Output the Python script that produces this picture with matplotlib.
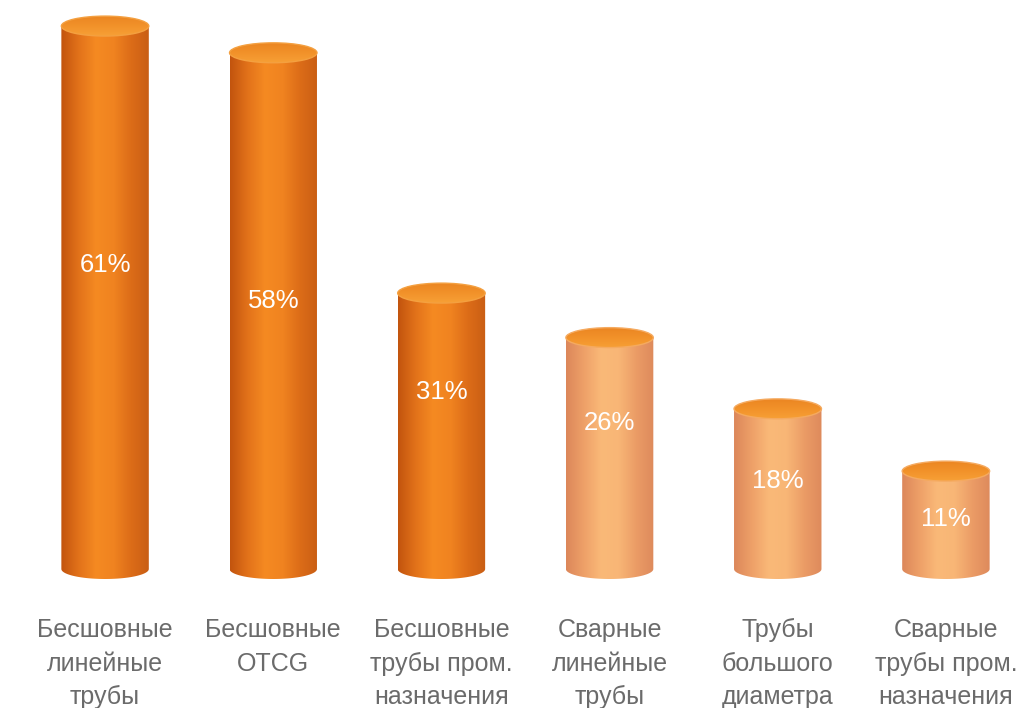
import numpy as np
import matplotlib.pyplot as plt
from matplotlib.patches import Ellipse, PathPatch
from matplotlib.path import Path
from matplotlib.colors import LinearSegmentedColormap

categories = ["Бесшовные\nлинейные\nтрубы", "Бесшовные\nOTCG", "Бесшовные\nтрубы пром.\nназначения",
              "Сварные\nлинейные\nтрубы", "Трубы\nбольшого\nдиаметра", "Сварные\nтрубы пром.\nназначения"]
values = [61, 58, 31, 26, 18, 11]
dark = [True, True, True, False, False, False]
# where the % label sits, as fraction of the bar height
label_frac = [0.56, 0.52, 0.64, 0.63, 0.55, 0.51]

plt.rcParams['font.family'] = ['Liberation Sans', 'DejaVu Sans']

dark_cmap = LinearSegmentedColormap.from_list(
    "dk", ["#c2540e", "#e2721a", "#f58a22", "#f08320", "#dc6c18", "#c95e14"])
light_cmap = LinearSegmentedColormap.from_list(
    "lt", ["#dc875a", "#eea068", "#fab978", "#f8b676", "#eb9c66", "#de8a5c"])
top_cmap = LinearSegmentedColormap.from_list(
    "tp", ["#eb8622", "#f2922a", "#f7a036"])

fig = plt.figure(figsize=(10.31, 7.08), dpi=100)
ax = fig.add_axes([21 / 1031, 1 - 600 / 708, 1009 / 1031, 600 / 708])
ax.set_xlim(-0.5, 5.5)
ax.set_ylim(-3.48, 63.93)
ax.axis('off')

hw = 0.26   # half width of a cylinder
eh = 1.12   # half height of the end ellipses
grad = np.linspace(0, 1, 256).reshape(1, -1)

for i, v in enumerate(values):
    x0, x1 = i - hw, i + hw
    # body: rectangle plus lower half ellipse
    t = np.linspace(np.pi, 2 * np.pi, 60)
    bottom = np.column_stack([i + hw * np.cos(t), eh * np.sin(t)])
    verts = np.vstack([[x0, v], bottom, [x1, v], [x0, v]])
    codes = [Path.MOVETO] + [Path.LINETO] * (len(verts) - 2) + [Path.CLOSEPOLY]
    body = PathPatch(Path(verts, codes), facecolor='none', edgecolor='none')
    ax.add_patch(body)
    im = ax.imshow(grad, cmap=dark_cmap if dark[i] else light_cmap, aspect='auto',
                   extent=[x0, x1, -eh, v], zorder=2)
    im.set_clip_path(body)

    # top ellipse
    top = Ellipse((i, v), 2 * hw, 2 * eh, facecolor='none', edgecolor='none')
    ax.add_patch(top)
    vg = np.linspace(0, 1, 128).reshape(-1, 1)
    im2 = ax.imshow(vg, cmap=top_cmap, aspect='auto', origin='upper',
                    extent=[x0, x1, v - eh, v + eh], zorder=3)
    im2.set_clip_path(top)
    rim = Ellipse((i, v), 2 * hw, 2 * eh, facecolor='none',
                  edgecolor='#f4a040' if dark[i] else '#f5aa60', lw=1.0, zorder=4)
    ax.add_patch(rim)

    ax.text(i, v * label_frac[i], f"{v}%", color='white', fontsize=18.5,
            ha='center', va='center', zorder=5)

    ax.text(i, -5.55, categories[i], color='#6b6b6b', fontsize=18, ha='center',
            va='top', linespacing=1.5, clip_on=False)

fig.savefig("out.png", dpi=100, facecolor='white')
